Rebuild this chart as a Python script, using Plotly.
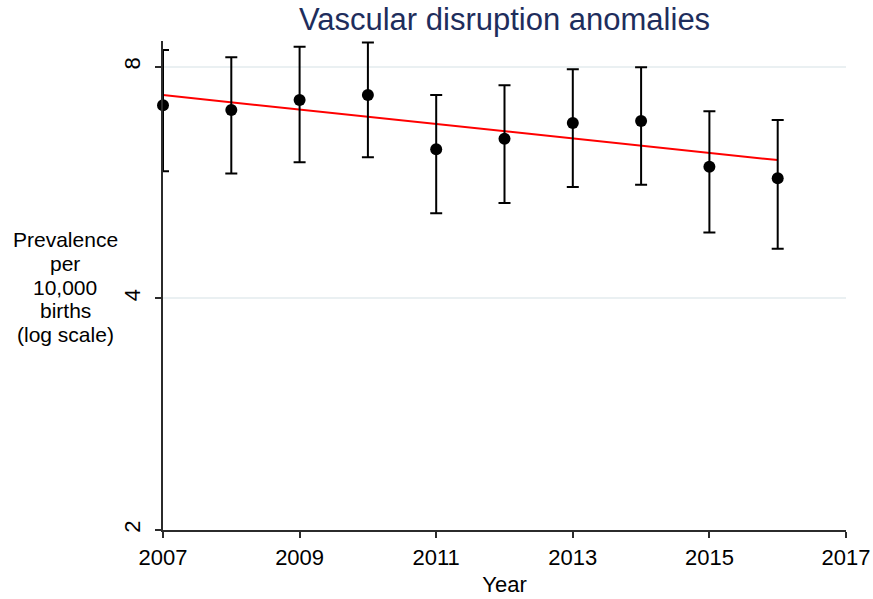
import plotly.graph_objects as go
import math

# Annual prevalence per 10,000 births with 95% confidence limits
years = [2007, 2008, 2009, 2010, 2011, 2012, 2013, 2014, 2015, 2016]
prevalence = [7.13, 7.03, 7.24, 7.35, 6.25, 6.45, 6.76, 6.80, 5.93, 5.73]
ci_upper = [8.41, 8.23, 8.49, 8.60, 7.35, 7.57, 7.94, 7.99, 7.00, 6.82]
ci_lower = [5.85, 5.81, 6.01, 6.10, 5.16, 5.32, 5.58, 5.62, 4.87, 4.64]

# Fitted log-linear trend (end points)
trend_years = [2007, 2016]
trend_values = [7.35, 6.05]

x_ticks = [2007, 2009, 2011, 2013, 2015, 2017]
y_ticks = [2, 4, 8]
y_title_lines = ["Prevalence", "per", "10,000", "births", "(log scale)"]

FONT = "Liberation Sans, Arial, Helvetica, sans-serif"
AXIS_COLOR = "#2b2b2b"

err_plus = [u - p for u, p in zip(ci_upper, prevalence)]
err_minus = [p - l for p, l in zip(prevalence, ci_lower)]

fig = go.Figure()

fig.add_trace(go.Scatter(
    x=trend_years, y=trend_values, mode="lines",
    line=dict(color="#ff0000", width=2),
    cliponaxis=False, showlegend=False, hoverinfo="skip",
))

fig.add_trace(go.Scatter(
    x=years, y=prevalence, mode="markers",
    marker=dict(color="black", size=12),
    error_y=dict(type="data", symmetric=False, array=err_plus,
                 arrayminus=err_minus, color="black", thickness=2, width=6),
    cliponaxis=False, showlegend=False,
))

W, H = 873, 599
L, R, T, B = 163, 27, 41, 69
plot_h = H - T - B

# Multi-line y-axis title, one annotation per line for tight spacing
pitch = 23.6
first_centre = 287 - 2 * pitch
annotations = []
for i, txt in enumerate(y_title_lines):
    py = first_centre + i * pitch
    annotations.append(dict(
        text=txt, xref="paper", yref="paper",
        x=(65 - L) / (W - L - R), y=(H - B - py) / plot_h,
        xanchor="center", yanchor="middle", showarrow=False,
        font=dict(family=FONT, size=21, color="black"),
    ))

fig.update_layout(
    width=W, height=H,
    margin=dict(l=L, r=R, t=T, b=B, pad=0),
    paper_bgcolor="white", plot_bgcolor="white",
    title=dict(text="Vascular disruption anomalies",
               x=0.5, xref="paper", xanchor="center",
               y=1 - 19 / H, yref="container", yanchor="middle",
               font=dict(family=FONT, size=31, color="#1e2d5c")),
    annotations=annotations,
    xaxis=dict(
        range=[2007, 2017], tickvals=x_ticks, automargin=False,
        showline=True, linecolor=AXIS_COLOR, linewidth=1.5,
        ticks="outside", ticklen=6, tickwidth=1.5, tickcolor=AXIS_COLOR,
        showgrid=False, zeroline=False,
        tickfont=dict(family=FONT, size=22, color="black"),
        ticklabelstandoff=1,
        title=dict(text="Year", standoff=7,
                   font=dict(family=FONT, size=22, color="black")),
    ),
    yaxis=dict(
        type="log", range=[math.log10(2), math.log10(8.64)],
        tickvals=y_ticks, ticktext=[str(v) for v in y_ticks],
        tickangle=-90, automargin=False,
        showline=True, linecolor=AXIS_COLOR, linewidth=1.5,
        ticks="outside", ticklen=6, tickwidth=1.5, tickcolor=AXIS_COLOR,
        showgrid=True, gridcolor="#eaf0f2", gridwidth=1.5,
        zeroline=False,
        tickfont=dict(family=FONT, size=22, color="black"),
        ticklabelstandoff=6,
    ),
)

fig.write_html("out.html")
